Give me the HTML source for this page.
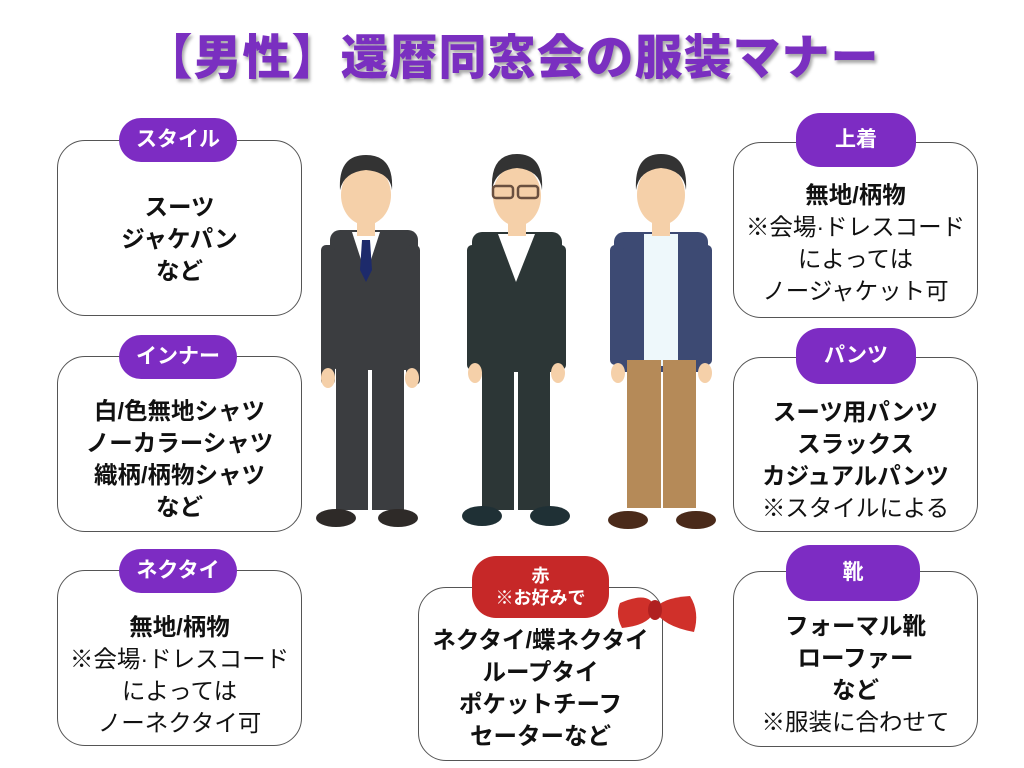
<!DOCTYPE html>
<html><head><meta charset="utf-8"><style>
body{margin:0;width:1024px;height:768px;background:#fff;position:relative;overflow:hidden;font-family:"Liberation Sans","Noto Sans CJK JP",sans-serif;}
.t{position:absolute;left:0;width:1024px;top:18px;text-align:center;font-size:48px;font-weight:900;color:#7a2fc0;text-shadow:2px 3px 3px rgba(0,0,0,.35);letter-spacing:1px}
.box{position:absolute;border:1.5px solid #555;border-radius:28px;background:#fff;box-sizing:border-box;text-align:center;color:#111;font-size:23.5px;line-height:32px}
.pill{position:absolute;background:#7d2cc3;color:#fff;font-weight:bold;font-size:21px;text-align:center;border-radius:24px;box-sizing:border-box}
.b{font-weight:bold}
</style></head><body>
<div class="t">【男性】還暦同窓会の服装マナー</div>

<div class="box" style="left:57px;top:140px;width:245px;height:176px;padding-top:50px"><div class="b">スーツ<br>ジャケパン<br>など</div></div>
<div class="pill" style="left:119px;top:118px;width:118px;height:44px;line-height:44px">スタイル</div>

<div class="box" style="left:57px;top:356px;width:245px;height:176px;padding-top:38px"><div class="b">白/色無地シャツ<br>ノーカラーシャツ<br>織柄/柄物シャツ<br>など</div></div>
<div class="pill" style="left:119px;top:335px;width:118px;height:44px;line-height:44px">インナー</div>

<div class="box" style="left:57px;top:570px;width:245px;height:176px;padding-top:40px"><div class="b">無地/柄物</div>※会場·ドレスコード<br>によっては<br>ノーネクタイ可</div>
<div class="pill" style="left:119px;top:549px;width:118px;height:44px;line-height:44px">ネクタイ</div>

<div class="box" style="left:733px;top:142px;width:245px;height:176px;padding-top:36px"><div class="b">無地/柄物</div>※会場·ドレスコード<br>によっては<br>ノージャケット可</div>
<div class="pill" style="left:796px;top:113px;width:120px;height:54px;line-height:54px">上着</div>

<div class="box" style="left:733px;top:357px;width:245px;height:175px;padding-top:38px"><div class="b">スーツ用パンツ<br>スラックス<br>カジュアルパンツ</div>※スタイルによる</div>
<div class="pill" style="left:796px;top:328px;width:120px;height:56px;line-height:56px">パンツ</div>

<div class="box" style="left:733px;top:571px;width:245px;height:176px;padding-top:38px"><div class="b">フォーマル靴<br>ローファー<br>など</div>※服装に合わせて</div>
<div class="pill" style="left:786px;top:545px;width:134px;height:56px;line-height:56px">靴</div>

<div class="box" style="left:418px;top:587px;width:245px;height:174px;padding-top:36px"><div class="b">ネクタイ/蝶ネクタイ<br>ループタイ<br>ポケットチーフ<br>セーターなど</div></div>
<div class="pill" style="left:472px;top:556px;width:137px;height:62px;background:#c62828;font-size:18px;line-height:22px;padding-top:9px">赤<br>※お好みで</div>

<svg style="position:absolute;left:0;top:0" width="1024" height="768">
<g fill="#d0302a"><path d="M620 603 Q650 590 655 608 Q652 625 622 628 Q615 615 620 603Z"/><path d="M690 596 Q660 598 655 610 Q662 626 694 632 Q700 612 690 596Z"/><ellipse cx="655" cy="610" rx="7" ry="10" fill="#b02020"/></g>
<g>
<rect x="330" y="230" width="88" height="140" rx="10" fill="#3b3d40"/>
<rect x="321" y="245" width="14" height="140" rx="5" fill="#3b3d40"/><rect x="406" y="245" width="14" height="140" rx="5" fill="#3b3d40"/>
<ellipse cx="328" cy="378" rx="7" ry="10" fill="#f5d0a9"/><ellipse cx="412" cy="378" rx="7" ry="10" fill="#f5d0a9"/>
<rect x="336" y="365" width="32" height="145" fill="#3b3d40"/><rect x="372" y="365" width="32" height="145" fill="#3b3d40"/>
<polygon points="352,232 380,232 366,275" fill="#fff"/><polygon points="362,240 370,240 372,270 366,282 360,270" fill="#1d2a6b"/>
<rect x="357" y="218" width="18" height="18" fill="#f5d0a9"/>
<ellipse cx="366" cy="195" rx="25" ry="30" fill="#f5d0a9"/>
<path d="M340 190 Q338 155 366 155 Q394 155 392 190 Q390 172 366 170 Q344 172 340 190Z" fill="#333"/>
<ellipse cx="336" cy="518" rx="20" ry="9" fill="#2e2a28"/><ellipse cx="398" cy="518" rx="20" ry="9" fill="#2e2a28"/>
</g>
<g>
<rect x="472" y="232" width="90" height="140" rx="10" fill="#2c3636"/>
<rect x="467" y="245" width="14" height="125" rx="5" fill="#2c3636"/><rect x="552" y="245" width="14" height="125" rx="5" fill="#2c3636"/>
<ellipse cx="475" cy="373" rx="7" ry="10" fill="#f5d0a9"/><ellipse cx="558" cy="373" rx="7" ry="10" fill="#f5d0a9"/>
<rect x="482" y="365" width="32" height="145" fill="#2c3636"/><rect x="518" y="365" width="32" height="145" fill="#2c3636"/>
<path d="M498 234 L535 234 L516 282Z" fill="#fff"/>
<rect x="508" y="218" width="18" height="18" fill="#f5d0a9"/>
<ellipse cx="517" cy="196" rx="24" ry="30" fill="#f5d0a9"/>
<path d="M492 190 Q490 154 517 154 Q544 154 542 190 Q540 170 517 168 Q495 170 492 190Z" fill="#333"/>
<rect x="493" y="186" width="20" height="12" rx="3" fill="none" stroke="#6a5040" stroke-width="2.5"/><rect x="518" y="186" width="20" height="12" rx="3" fill="none" stroke="#6a5040" stroke-width="2.5"/>
<ellipse cx="482" cy="516" rx="20" ry="10" fill="#1f3035"/><ellipse cx="550" cy="516" rx="20" ry="10" fill="#1f3035"/>
</g>
<g>
<rect x="614" y="232" width="94" height="140" rx="10" fill="#3d4a73"/>
<rect x="610" y="245" width="14" height="120" rx="5" fill="#3d4a73"/><rect x="698" y="245" width="14" height="120" rx="5" fill="#3d4a73"/>
<ellipse cx="618" cy="373" rx="7" ry="10" fill="#f5d0a9"/><ellipse cx="705" cy="373" rx="7" ry="10" fill="#f5d0a9"/>
<rect x="644" y="234" width="34" height="132" fill="#eef8fb"/>
<rect x="627" y="360" width="34" height="148" fill="#b58a58"/><rect x="663" y="360" width="33" height="148" fill="#b58a58"/>
<rect x="652" y="218" width="18" height="18" fill="#f5d0a9"/>
<ellipse cx="661" cy="195" rx="24" ry="30" fill="#f5d0a9"/>
<path d="M636 190 Q634 154 661 154 Q688 154 686 190 Q684 170 661 168 Q639 170 636 190Z" fill="#333"/>
<ellipse cx="628" cy="520" rx="20" ry="9" fill="#4a2a1a"/><ellipse cx="696" cy="520" rx="20" ry="9" fill="#4a2a1a"/>
</g>
</svg>
</body></html>
